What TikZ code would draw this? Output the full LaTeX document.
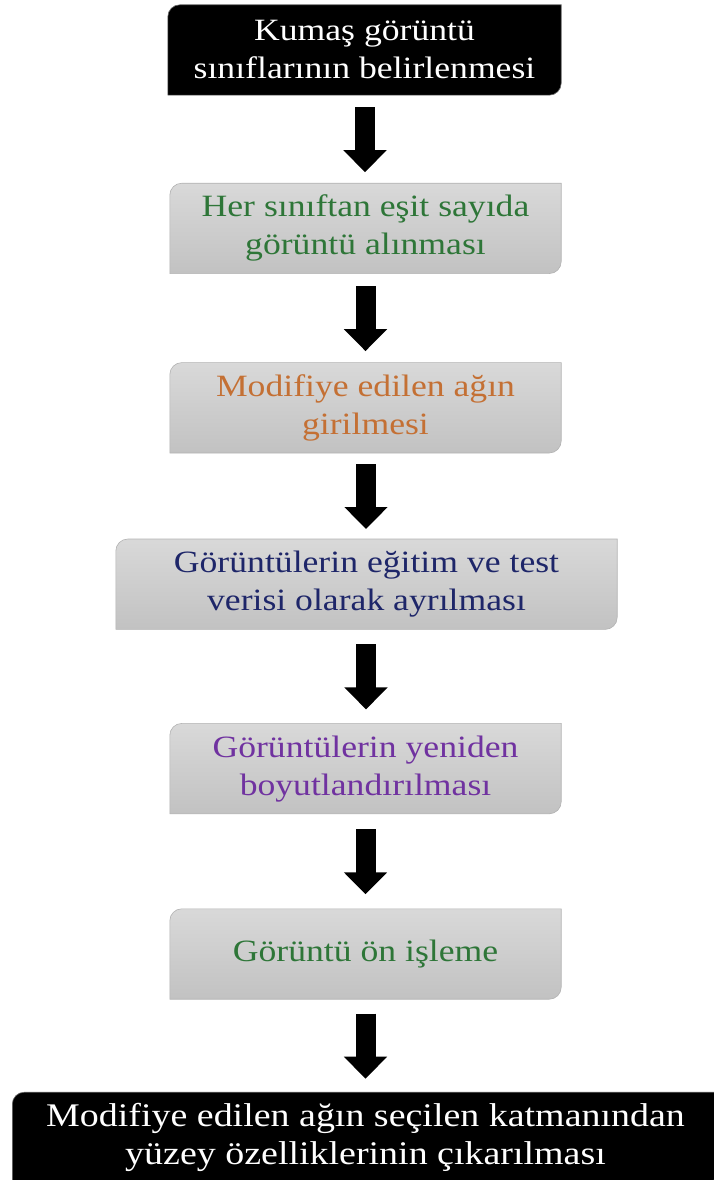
\documentclass[tikz,border=0pt]{standalone}
\usepackage{fontspec}
\setmainfont{Liberation Serif}[FakeStretch=1.15]
\usetikzlibrary{arrows.meta,positioning,calc,backgrounds}

\definecolor{txtgreen}{RGB}{46,118,56}
\definecolor{txtorange}{RGB}{196,112,52}
\definecolor{txtnavy}{RGB}{30,38,105}
\definecolor{txtpurple}{RGB}{112,50,160}

\begin{document}
\begin{tikzpicture}[x=1pt, y=1pt, >=LaTeX, font=\fontsize{31}{38}\selectfont]
  \tikzstyle{block}=[align=center, minimum width=391pt, minimum height=90pt, inner sep=0pt]
  \tikzstyle{darkblock}=[block, text=white]
  \tikzstyle{greyblock}=[block]
  \tikzstyle{greyfill}=[top color=black!15, bottom color=black!24, draw=black!30, line width=0.6pt]
  \tikzstyle{darkfill}=[fill=black, draw=black!60, line width=0.6pt]
  \tikzstyle{flow}=[line width=20pt, -{Triangle[width=42pt, length=22pt]}]

  \useasboundingbox (0,0) rectangle (713,-1180);

  % ------- nodes -------
  \node[darkblock, minimum width=393pt] (classes) at (364.5,-50) {Kumaş görüntü\\sınıflarının belirlenmesi};
  \node[greyblock, text=txtgreen, below=88pt of classes.south, anchor=north, xshift=1pt] (equal) {Her sınıftan eşit sayıda\\görüntü alınması};
  \node[greyblock, text=txtorange, below=89pt of equal] (modnet) {Modifiye edilen ağın\\girilmesi};
  \node[greyblock, text=txtnavy, below=86pt of modnet, minimum width=501pt, xshift=1pt] (split) {Görüntülerin eğitim ve test\\verisi olarak ayrılması};
  \node[greyblock, text=txtpurple, below=94pt of split, xshift=-1pt] (resize) {Görüntülerin yeniden\\boyutlandırılması};
  \node[greyblock, text=txtgreen, below=95pt of resize] (prep) {Görüntü ön işleme};
  \node[darkblock, below=93pt of prep, minimum width=706pt, font=\fontsize{33}{38}\selectfont] (extract) {Modifiye edilen ağın seçilen katmanından\\yüzey özelliklerinin çıkarılması};

  % box shapes, rounded on one diagonal
  \begin{scope}[on background layer]
    \foreach \n in {equal,modnet,split,resize,prep}
      \path[greyfill] (\n.south west) -- ([yshift=-12pt]\n.north west) arc[start angle=180, end angle=90, radius=12pt]
        -- (\n.north east) -- ([yshift=12pt]\n.south east) arc[start angle=0, end angle=-90, radius=12pt] -- cycle;
    \foreach \n in {classes,extract}
      \path[darkfill] (\n.south west) -- ([yshift=-12pt]\n.north west) arc[start angle=180, end angle=90, radius=12pt]
        -- (\n.north east) -- ([yshift=12pt]\n.south east) arc[start angle=0, end angle=-90, radius=12pt] -- cycle;
  \end{scope}

  % ------- arrows -------
  \foreach \a/\b in {classes/equal, equal/modnet, modnet/split, split/resize, resize/prep, prep/extract}
    \draw[flow] ($(\a.south)!.5!(\b.north)+(0,32)$) -- ($(\a.south)!.5!(\b.north)-(0,33)$);
\end{tikzpicture}
\end{document}
